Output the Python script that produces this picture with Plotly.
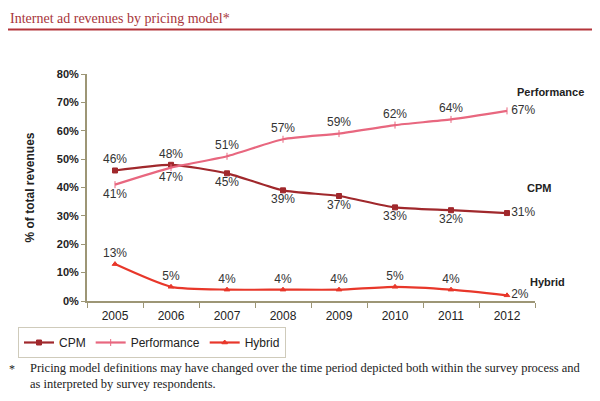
import plotly.graph_objects as go

years = ["2005", "2006", "2007", "2008", "2009", "2010", "2011", "2012"]
cpm = [46, 48, 45, 39, 37, 33, 32, 31]
performance = [41, 47, 51, 57, 59, 62, 64, 67]
hybrid = [13, 5, 4, 4, 4, 5, 4, 2]
y_ticks = [0, 10, 20, 30, 40, 50, 60, 70, 80]

cpm_pos = ["top center", "top center", "bottom center", "bottom center", "bottom center",
           "bottom center", "bottom center", "middle right"]
perf_pos = ["bottom center", "bottom center", "top center", "top center", "top center",
            "top center", "top center", "middle right"]
hyb_pos = ["top center"] * 7 + ["middle right"]

c_cpm = "#a0282c"
c_perf = "#e8677f"
c_hyb = "#e8372a"
axis_col = "#9d9676"
lab_font = dict(family="Liberation Sans, Arial", size=12, color="#333333")

# page body has an 8px margin: convert screen pixels to paper coordinates
OFF = 8
L, T, W, H = 87 - OFF, 74 - OFF, 448, 227


def px(sx):
    return (sx - OFF - L) / W


def py(sy):
    return (T + H - (sy - OFF)) / H


fig = go.Figure()
for name, vals, col, sym, pos in [
    ("CPM", cpm, c_cpm, "square", cpm_pos),
    ("Performance", performance, c_perf, "line-ns", perf_pos),
    ("Hybrid", hybrid, c_hyb, "triangle-up", hyb_pos),
]:
    fig.add_trace(go.Scatter(
        x=years, y=vals, name=name, mode="lines+markers+text",
        line=dict(color=col, width=2.2, shape="spline", smoothing=0.6),
        marker=dict(color=col, size=5, symbol=sym, line=dict(color=col, width=1)),
        text=[f"{v}%" for v in vals], textposition=pos, textfont=lab_font,
        cliponaxis=False,
    ))

fig.update_layout(
    width=600, height=401,
    margin=dict(l=L, r=600 - L - W, t=T, b=401 - T - H, autoexpand=False),
    paper_bgcolor="white", plot_bgcolor="white",
    showlegend=True,
    legend=dict(orientation="h", x=px(18), y=py(327), xanchor="left", yanchor="top",
                bordercolor="#cfcbbb", borderwidth=1,
                font=dict(family="Liberation Sans, Arial", size=12, color="#222222"),
                itemwidth=30, tracegroupgap=0),
    xaxis=dict(type="category", showgrid=False, showline=True, linecolor=axis_col,
               linewidth=2, ticks="outside", tickcolor=axis_col, ticklen=5,
               tickson="boundaries", range=[-0.5, 7.5], automargin=False,
               ticklabelstandoff=3,
               tickfont=dict(family="Liberation Sans, Arial", size=12, color="#222222")),
    yaxis=dict(range=[0, 80], tickvals=y_ticks, ticktext=[f"{v}%" for v in y_ticks],
               showgrid=False, showline=True, linecolor=axis_col, linewidth=2,
               ticks="outside", tickcolor=axis_col, ticklen=4, zeroline=False,
               automargin=False,
               tickfont=dict(family="Liberation Sans, Arial", size=11, color="#222222", weight="bold"),
               title=dict(text="% of total revenues", standoff=20,
                          font=dict(family="Liberation Sans, Arial", size=12, color="#222222", weight="bold"))),
)

bold = dict(family="Liberation Sans, Arial", size=11, color="#222222", weight="bold")
for txt, sx, yv in [("Performance", 515, 73.7), ("CPM", 525, 39.8), ("Hybrid", 528, 6.7)]:
    fig.add_annotation(text=txt, xref="paper", yref="y", x=px(sx), y=yv, xanchor="left",
                       yanchor="middle", showarrow=False, font=bold)

fig.add_annotation(text="Internet ad revenues by pricing model*", xref="paper", yref="paper",
                   x=px(8), y=py(18), xanchor="left", yanchor="middle", showarrow=False,
                   font=dict(family="Liberation Serif, DejaVu Serif", size=14, color="#a8353a"))
fig.add_shape(type="line", xref="paper", yref="paper", x0=px(4), x1=px(593),
              y0=py(29.5), y1=py(29.5), line=dict(color="#b4343a", width=2))

fig.add_annotation(text="*", xref="paper", yref="paper", x=px(7), y=py(369),
                   xanchor="left", yanchor="middle", showarrow=False,
                   font=dict(family="Liberation Serif", size=12, color="#222222"))
fig.add_annotation(text="Pricing model definitions may have changed over the time period depicted both within the survey process and<br>as interpreted by survey respondents.",
                   xref="paper", yref="paper", x=px(28), y=py(376), xanchor="left",
                   yanchor="middle", align="left", showarrow=False,
                   font=dict(family="Liberation Serif", size=12.5, color="#222222"))

fig.write_html("out.html")
